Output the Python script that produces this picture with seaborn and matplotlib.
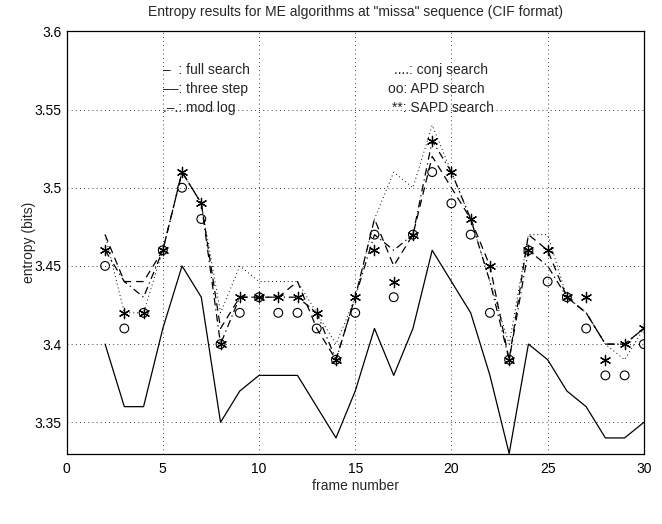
import numpy as np
import pandas as pd
import matplotlib
matplotlib.use("Agg")
import matplotlib.pyplot as plt
import seaborn as sns

# 프레임 번호
frames = list(range(2, 31))

# 각 알고리즘의 엔트로피 값
full_search = [3.40, 3.36, 3.36, 3.41, 3.45, 3.43, 3.35, 3.37, 3.38, 3.38, 3.38, 3.36, 3.34, 3.37,
               3.41, 3.38, 3.41, 3.46, 3.44, 3.42, 3.38, 3.33, 3.40, 3.39, 3.37, 3.36, 3.34, 3.34, 3.35]
three_step = [3.47, 3.44, 3.44, 3.46, 3.51, 3.49, 3.41, 3.43, 3.43, 3.43, 3.44, 3.41, 3.39, 3.43,
              3.48, 3.45, 3.47, 3.52, 3.50, 3.48, 3.45, 3.39, 3.47, 3.46, 3.43, 3.42, 3.40, 3.40, 3.41]
conj_search = [3.47, 3.42, 3.42, 3.46, 3.51, 3.49, 3.42, 3.45, 3.44, 3.44, 3.44, 3.42, 3.40, 3.43,
               3.48, 3.51, 3.50, 3.54, 3.51, 3.48, 3.44, 3.40, 3.47, 3.47, 3.43, 3.42, 3.40, 3.39, 3.41]
mod_log = [3.46, 3.44, 3.43, 3.46, 3.51, 3.49, 3.40, 3.43, 3.43, 3.43, 3.43, 3.42, 3.39, 3.43,
           3.47, 3.46, 3.47, 3.53, 3.51, 3.48, 3.44, 3.39, 3.46, 3.45, 3.43, 3.42, 3.40, 3.40, 3.41]
apd_search = [3.45, 3.41, 3.42, 3.46, 3.50, 3.48, 3.40, 3.42, 3.43, 3.42, 3.42, 3.41, 3.39, 3.42,
              3.47, 3.43, 3.47, 3.51, 3.49, 3.47, 3.42, 3.39, 3.46, 3.44, 3.43, 3.41, 3.38, 3.38, 3.40]
sapd_search = [3.46, 3.42, 3.42, 3.46, 3.51, 3.49, 3.40, 3.43, 3.43, 3.43, 3.43, 3.42, 3.39, 3.43,
               3.46, 3.44, 3.47, 3.53, 3.51, 3.48, 3.45, 3.39, 3.46, 3.46, 3.43, 3.43, 3.39, 3.40, 3.41]

sns.set_style("white")
plt.rcParams['font.family'] = ['Liberation Sans', 'DejaVu Sans']
plt.rcParams['font.size'] = 10

fig = plt.figure(figsize=(6.62, 5.24), dpi=100)
ax = fig.add_axes([0.1006, 0.1344, 0.872, 0.8058])

# 선 그래프
sns.lineplot(x=frames, y=full_search, color='k', linewidth=0.9, linestyle='-', ax=ax)
sns.lineplot(x=frames, y=three_step, color='k', linewidth=0.9, linestyle=(0, (6, 4)), ax=ax)
sns.lineplot(x=frames, y=conj_search, color='k', linewidth=0.7, linestyle=(0, (1, 3)), ax=ax)
sns.lineplot(x=frames, y=mod_log, color='k', linewidth=0.9, linestyle=(0, (6, 3, 1, 3)), ax=ax)

# 마커
sns.scatterplot(x=frames, y=apd_search, marker='o', s=40, facecolor='none',
                edgecolor='k', linewidth=0.8, ax=ax)
sns.scatterplot(x=frames, y=sapd_search, marker=(6, 2, 0), s=55, color='k',
                edgecolor='k', linewidth=0.9, ax=ax)

ax.set_xlim(0, 30)
ax.set_ylim(3.33, 3.6)
ax.set_xticks([0, 5, 10, 15, 20, 25, 30])
ax.set_yticks([3.35, 3.4, 3.45, 3.5, 3.55, 3.6])
ax.set_yticklabels(['3.35', '3.4', '3.45', '3.5', '3.55', '3.6'])
ax.grid(True, color='k', linestyle=(0, (1, 4)), linewidth=0.6)
ax.tick_params(direction='in', length=5, color='k', labelsize=10, labelcolor='k')
ax.tick_params(axis='x', pad=6)
for side in ax.spines.values():
    side.set_color('k')
    side.set_linewidth(0.9)

ax.set_xlabel('frame number', fontsize=10, labelpad=2)
ax.set_ylabel('entropy (bits)', fontsize=10, labelpad=-1)
ax.set_title('Entropy results for ME algorithms at "missa" sequence (CIF format)',
             fontsize=10, pad=11)

# 범례 텍스트
ax.text(5.0, 3.575, '–  : full search', fontsize=10, va='center')
ax.text(5.0, 3.563, '––: three step', fontsize=10, va='center')
ax.text(5.0, 3.551, '.–.: mod log', fontsize=10, va='center')
ax.text(17.0, 3.575, '....: conj search', fontsize=10, va='center')
ax.text(16.7, 3.563, 'oo: APD search', fontsize=10, va='center')
ax.text(16.9, 3.551, '**: SAPD search', fontsize=10, va='center')

fig.savefig('out.png', dpi=100)
